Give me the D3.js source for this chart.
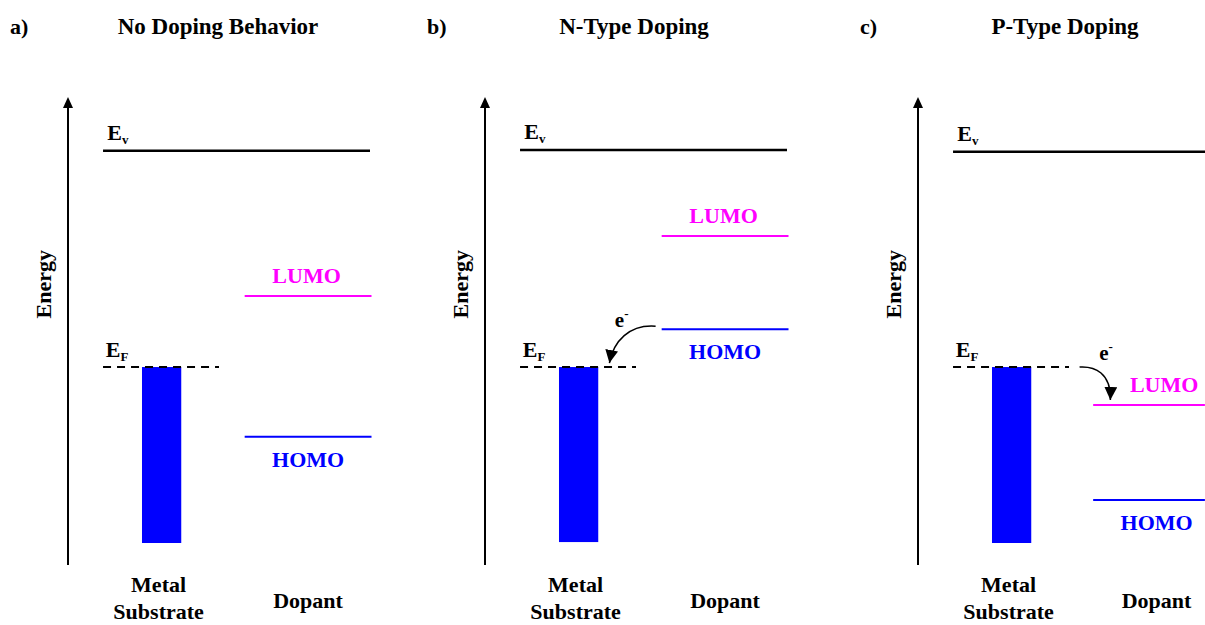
<!DOCTYPE html>
<html>
<head>
<meta charset="UTF-8">
<script src="https://d3js.org/d3.v7.min.js"></script>
<style>
    body { margin: 0; background: white; }
    .lbl { font-family: "Liberation Serif", "Times New Roman", Times, serif; font-weight: bold; }
</style>
</head>
<body>
<svg id="chart" width="1205" height="625"></svg>
<script>
    // energy levels (arbitrary units, 0 = bottom of axis)
    let panels = ["a)", "b)", "c)"]
    let titles = ["No Doping Behavior", "N-Type Doping", "P-Type Doping"]
    let vacuumLevel = [8.85, 8.87, 8.83]
    let fermiLevel = [4.23, 4.23, 4.23]
    let bandBottom = [0.47, 0.49, 0.47]
    let lumo = [5.75, 7.03, 3.42]
    let homo = [2.74, 5.04, 1.39]
    // electron transfer direction: 0 none, 1 dopant -> metal, -1 metal -> dopant
    let transfer = [0, 1, -1]
    let categories = ["Metal\nSubstrate", "Dopant"]

    let svg = d3.select("#chart")
    let axisX = [68, 485, 918]
    let titleX = [218, 634, 1065]

    let y = d3.scaleLinear().domain([0, 10]).range([565, 97])
    // local x positions measured from the energy axis
    let x = d3.scaleLinear().domain([0, 1]).range([0, 302])

    function label(sel, size) {
        return sel.append("text")
            .attr("class", "lbl")
            .attr("font-family", "Liberation Serif, Times New Roman, serif")
            .attr("font-weight", "bold")
            .attr("font-size", size)
    }

    svg.append("defs").append("marker")
        .attr("id", "head")
        .attr("viewBox", "0 0 10 10")
        .attr("refX", 10).attr("refY", 5)
        .attr("markerWidth", 13).attr("markerHeight", 13)
        .attr("orient", "auto")
        .attr("markerUnits", "userSpaceOnUse")
        .append("path")
        .attr("d", "M0,0 L10,5 L0,10 Z")
        .attr("fill", "black")

    panels.forEach(function (p, i) {
        let g = svg.append("g").attr("transform", "translate(" + axisX[i] + ",0)")

        label(svg, 22).attr("x", axisX[i] - 58).attr("y", 34).text(p)
        label(svg, 23).attr("x", titleX[i]).attr("y", 34)
            .attr("text-anchor", "middle").text(titles[i])

        // energy axis with arrow
        g.append("line")
            .attr("x1", 0).attr("x2", 0)
            .attr("y1", y(0)).attr("y2", y(10) + 6)
            .attr("stroke", "black").attr("stroke-width", 2)
        g.append("path")
            .attr("d", "M-5," + (y(10) + 11) + " L0," + y(10) + " L5," + (y(10) + 11) + " Z")
            .attr("fill", "black")
        label(g, 22)
            .attr("transform", "translate(-17," + y(6) + ") rotate(-90)")
            .attr("text-anchor", "middle")
            .text("Energy")

        // vacuum level
        g.append("line")
            .attr("x1", x(0.116)).attr("x2", x(1))
            .attr("y1", y(vacuumLevel[i])).attr("y2", y(vacuumLevel[i]))
            .attr("stroke", "black").attr("stroke-width", 2.5)
        let ev = label(g, 22).attr("x", x(0.13)).attr("y", y(vacuumLevel[i]) - 11)
        ev.append("tspan").text("E")
        ev.append("tspan").attr("dy", 4).attr("font-size", 13).text("v")

        // metal band
        g.append("rect")
            .attr("x", x(0.245)).attr("width", x(0.13))
            .attr("y", y(fermiLevel[i]))
            .attr("height", y(bandBottom[i]) - y(fermiLevel[i]))
            .attr("fill", "#0000ff")
        g.append("line")
            .attr("x1", x(0.116)).attr("x2", x(0.5))
            .attr("y1", y(fermiLevel[i])).attr("y2", y(fermiLevel[i]))
            .attr("stroke", "black").attr("stroke-width", 2)
            .attr("stroke-dasharray", "8,6")
        let ef = label(g, 22).attr("x", x(0.125)).attr("y", y(fermiLevel[i]) - 10)
        ef.append("tspan").text("E")
        ef.append("tspan").attr("dy", 4).attr("font-size", 13).text("F")

        // dopant levels
        let dx1 = i == 2 ? 0.58 : 0.585
        let dx2 = i == 2 ? 0.95 : 1.005
        let lumoX = i == 2 ? 0.815 : 0.79
        let homoX = i == 2 ? 0.79 : 0.795
        g.append("line")
            .attr("x1", x(dx1)).attr("x2", x(dx2))
            .attr("y1", y(lumo[i])).attr("y2", y(lumo[i]))
            .attr("stroke", "#ff00ff").attr("stroke-width", 2)
        label(g, 22).attr("x", x(lumoX)).attr("y", y(lumo[i]) - 13)
            .attr("text-anchor", "middle").attr("fill", "#ff00ff")
            .text("LUMO")
        g.append("line")
            .attr("x1", x(dx1)).attr("x2", x(dx2))
            .attr("y1", y(homo[i])).attr("y2", y(homo[i]))
            .attr("stroke", "#0000ff").attr("stroke-width", 2)
        label(g, 22).attr("x", x(homoX)).attr("y", y(homo[i]) + 30)
            .attr("text-anchor", "middle").attr("fill", "#0000ff")
            .text("HOMO")

        // electron transfer arrow
        if (transfer[i] == 1) {
            let x0 = x(0.565), y0 = y(homo[i]) - 3
            let x1 = x(0.412), y1 = y(fermiLevel[i]) - 4
            g.append("path")
                .attr("d", "M" + x0 + "," + y0 + " C" + (x1 + 20) + "," + (y0 - 2) + " " + (x1 + 4) + "," + (y1 - 22) + " " + x1 + "," + y1)
                .attr("fill", "none").attr("stroke", "black").attr("stroke-width", 1.5)
                .attr("marker-end", "url(#head)")
            let e = label(g, 21).attr("x", x(0.43)).attr("y", y0 + 1).text("e")
            e.append("tspan").attr("dy", -9).attr("font-size", 13).text("-")
        } else if (transfer[i] == -1) {
            let x0 = x(0.535), y0 = y(fermiLevel[i])
            let x1 = x(0.637), y1 = y(lumo[i]) - 5
            g.append("path")
                .attr("d", "M" + x0 + "," + y0 + " C" + (x0 + 15) + "," + (y0 - 1) + " " + (x1 + 1) + "," + (y0 + 6) + " " + x1 + "," + y1)
                .attr("fill", "none").attr("stroke", "black").attr("stroke-width", 1.5)
                .attr("marker-end", "url(#head)")
            let e = label(g, 21).attr("x", x(0.6)).attr("y", y0 - 7).text("e")
            e.append("tspan").attr("dy", -9).attr("font-size", 13).text("-")
        }

        // category labels
        let metal = label(g, 22).attr("x", x(0.3)).attr("y", 592)
            .attr("text-anchor", "middle")
        categories[0].split("\n").forEach(function (t, k) {
            metal.append("tspan").attr("x", x(0.3)).attr("dy", k == 0 ? 0 : 27).text(t)
        })
        label(g, 22).attr("x", x(homoX)).attr("y", 608)
            .attr("text-anchor", "middle")
            .text(categories[1])
    })
</script>
</body>
</html>
